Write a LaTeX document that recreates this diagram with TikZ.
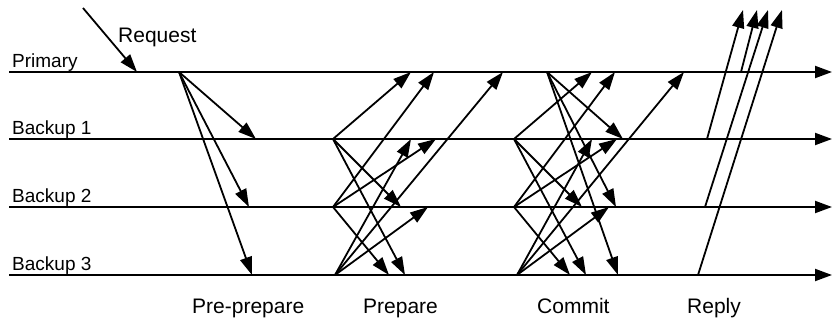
\documentclass[tikz,border=0pt]{standalone}
\usepackage{fontspec}
\setmainfont{Liberation Sans}
\usetikzlibrary{arrows.meta}
\begin{document}
\begin{tikzpicture}[x=1pt,y=-1pt,
  msg/.style={line width=1.8pt,-{Triangle[length=18pt,width=12pt]}},
  timeline/.style={line width=2pt,-{Triangle[length=17pt,width=12pt]}},
  lane/.style={anchor=base west,inner sep=0pt,font=\fontsize{19}{22}\selectfont},
  phase/.style={anchor=base west,inner sep=0pt,font=\fontsize{21}{24}\selectfont}]
\useasboundingbox (0,0) rectangle (833,321);

% replica time lines
\foreach \n/\y in {P/72,A/139,B/207,C/275} {
  \coordinate (\n start) at (9,\y);
  \coordinate (\n end) at (832,\y);
  \draw[timeline] (\n start) -- (\n end);
}

% lane names
\node[lane] (lP) at (12,68) {Primary};
\node[lane] (lA) at (12,134) {Backup 1};
\node[lane] (lB) at (12,202) {Backup 2};
\node[lane] (lC) at (12,270) {Backup 3};

% phase names
\node[phase] (req) at (118,43) {Request};
\node[phase] (ph1) at (192,313) {Pre-prepare};
\node[phase] (ph2) at (363,313) {Prepare};
\node[phase] (ph3) at (537,313) {Commit};
\node[phase] (ph4) at (687,313) {Reply};

% message events: senders and receivers
\foreach \n/\x/\y in {
  client/83/8, reqP/137/72,
  ppP/179/72, ppA/256/139, ppB/249/207, ppC/252/275,
  pA/333/139, pB/333/207, pC/335/275,
  pAP/411/72, pAB/401/207, pAC/405/275,
  pBP/434/72, pBA/436/139, pBC/389/275,
  pCP/503/72, pCA/411/139, pCB/428/207,
  cP/547/72, cA/514/139, cB/514/207, cC/517/275,
  cPA/623/139, cPB/616/207, cPC/618/275,
  cAP/592/72, cAB/582/207, cAC/586/275,
  cBP/615/72, cBA/617/139, cBC/570/275,
  cCP/684/72, cCA/592/139, cCB/609/207,
  rA/707/139, rP/741/72, rB/705/207, rC/698/275,
  rAo/743/10, rPo/757/10, rBo/768/10, rCo/782/10}
  \coordinate (\n) at (\x,\y);

% messages
\foreach \a/\b in {
  client/reqP,
  ppP/ppA, ppP/ppB, ppP/ppC,
  pA/pAP, pA/pAB, pA/pAC,
  pB/pBP, pB/pBA, pB/pBC,
  pC/pCP, pC/pCA, pC/pCB,
  cP/cPA, cP/cPB, cP/cPC,
  cA/cAP, cA/cAB, cA/cAC,
  cB/cBP, cB/cBA, cB/cBC,
  cC/cCP, cC/cCA, cC/cCB,
  rA/rAo, rP/rPo, rB/rBo, rC/rCo}
  \draw[msg] (\a) -- (\b);
\end{tikzpicture}
\end{document}
